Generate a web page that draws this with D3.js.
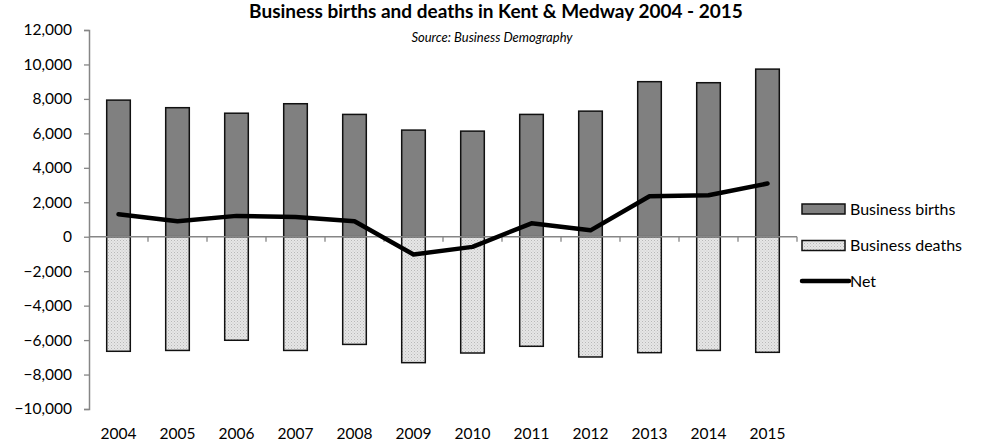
<!DOCTYPE html>
<html>
<head>
<meta charset="utf-8">
<script src="https://cdn.jsdelivr.net/npm/d3@7"></script>
<style>
  body { margin: 0; background: #fff; }
  text { font-family: Lato, "Open Sans", sans-serif; fill: #000; }
</style>
</head>
<body>
<div id="chart"></div>
<script>
// data
let YEARS = ["2004", "2005", "2006", "2007", "2008", "2009", "2010", "2011", "2012", "2013", "2014", "2015"]
let BIRTHS = [7930, 7490, 7170, 7720, 7100, 6190, 6130, 7100, 7290, 9000, 8940, 9730]
let DEATHS = [-6650, -6600, -6010, -6600, -6250, -7310, -6750, -6360, -6980, -6730, -6600, -6710]
let NET = [1310, 900, 1210, 1150, 900, -1030, -590, 780, 370, 2350, 2410, 3090]
let Y_TICKS = [12000, 10000, 8000, 6000, 4000, 2000, 0, -2000, -4000, -6000, -8000, -10000]

let width = 983, height = 446
let plotLeft = 89, plotRight = 797, plotTop = 30, plotBottom = 409
let axisGrey = "#868686"

let svg = d3.select("#chart")
    .append("svg")
    .attr("width", width)
    .attr("height", height)

// pattern for deaths bars
let defs = svg.append("defs")
let pat = defs.append("pattern")
    .attr("id", "dots")
    .attr("width", 3)
    .attr("height", 3)
    .attr("patternUnits", "userSpaceOnUse")
pat.append("rect").attr("width", 3).attr("height", 3).attr("fill", "#e6e6e6")
pat.append("rect").attr("width", 1).attr("height", 1).attr("fill", "#b8b8b8")
pat.append("rect").attr("x", 1.5).attr("y", 1.5).attr("width", 1).attr("height", 1).attr("fill", "#c8c8c8")

let x = d3.scaleBand()
    .domain(YEARS)
    .range([plotLeft, plotRight])
    .paddingInner(0.6)
    .paddingOuter(0.3)

let y = d3.scaleLinear()
    .domain([-10000, 12000])
    .range([plotBottom, plotTop])

// title
svg.append("text")
    .attr("x", 496)
    .attr("y", 18)
    .attr("text-anchor", "middle")
    .style("font-weight", "bold")
    .style("font-size", "19px")
    .text("Business births and deaths in Kent & Medway 2004 - 2015")

svg.append("text")
    .attr("x", 492)
    .attr("y", 42)
    .attr("text-anchor", "middle")
    .style("font-style", "italic")
    .style("font-size", "13px")
    .text("Source: Business Demography")

// y axis
let yAxis = svg.append("g")
    .attr("transform", "translate(" + plotLeft + ",0)")
    .call(d3.axisLeft(y)
        .tickValues(Y_TICKS)
        .tickSize(5)
        .tickPadding(12)
        .tickFormat(d3.format(",")))
yAxis.select(".domain").attr("stroke", axisGrey).attr("stroke-width", 1.5)
yAxis.selectAll(".tick line").attr("stroke", axisGrey).attr("stroke-width", 1.3)
yAxis.selectAll(".tick text")
    .style("font-family", "Lato, sans-serif")
    .style("font-size", "15.5px")
    .attr("fill", "#000")

// births bars
svg.selectAll(".birth")
    .data(BIRTHS)
    .enter()
    .append("rect")
    .attr("class", "birth")
    .attr("x", function (d, i) { return x(YEARS[i]) })
    .attr("y", function (d) { return y(d) })
    .attr("width", x.bandwidth())
    .attr("height", function (d) { return y(0) - y(d) })
    .attr("fill", "#808080")
    .attr("stroke", "#111")
    .attr("stroke-width", 1.5)

// deaths bars
svg.selectAll(".death")
    .data(DEATHS)
    .enter()
    .append("rect")
    .attr("class", "death")
    .attr("x", function (d, i) { return x(YEARS[i]) })
    .attr("y", y(0))
    .attr("width", x.bandwidth())
    .attr("height", function (d) { return y(d) - y(0) })
    .attr("fill", "url(#dots)")
    .attr("stroke", "#111")
    .attr("stroke-width", 1.5)

// zero axis with ticks between categories
let zeroG = svg.append("g")
zeroG.append("line")
    .attr("x1", plotLeft).attr("x2", plotRight)
    .attr("y1", y(0)).attr("y2", y(0))
    .attr("stroke", axisGrey)
    .attr("stroke-width", 1.5)
let step = x.step()
zeroG.selectAll("line.tk")
    .data(d3.range(1, YEARS.length + 1))
    .enter()
    .append("line")
    .attr("class", "tk")
    .attr("x1", function (i) { return plotLeft + i * step })
    .attr("x2", function (i) { return plotLeft + i * step })
    .attr("y1", y(0))
    .attr("y2", y(0) + 5)
    .attr("stroke", axisGrey)
    .attr("stroke-width", 1.3)

// net line
let line = d3.line()
    .x(function (d, i) { return x(YEARS[i]) + x.bandwidth() / 2 })
    .y(function (d) { return y(d) })
svg.append("path")
    .datum(NET)
    .attr("d", line)
    .attr("fill", "none")
    .attr("stroke", "#000")
    .attr("stroke-width", 4.5)
    .attr("stroke-linejoin", "round")
    .attr("stroke-linecap", "round")

// category labels
svg.selectAll(".yr")
    .data(YEARS)
    .enter()
    .append("text")
    .attr("class", "yr")
    .attr("x", function (d) { return x(d) + x.bandwidth() / 2 })
    .attr("y", 439)
    .attr("text-anchor", "middle")
    .style("font-size", "15.5px")
    .text(function (d) { return d })

// legend
let legend = svg.append("g")
let lx = 802
legend.append("rect")
    .attr("x", lx).attr("y", 204).attr("width", 43).attr("height", 10)
    .attr("fill", "#808080").attr("stroke", "#111").attr("stroke-width", 1.5)
legend.append("text")
    .attr("x", 850).attr("y", 214.5)
    .style("font-size", "16px")
    .text("Business births")
legend.append("rect")
    .attr("x", lx).attr("y", 240.5).attr("width", 43).attr("height", 10)
    .attr("fill", "url(#dots)").attr("stroke", "#111").attr("stroke-width", 1.5)
legend.append("text")
    .attr("x", 850).attr("y", 251)
    .style("font-size", "16px")
    .text("Business deaths")
legend.append("line")
    .attr("x1", lx).attr("x2", 849).attr("y1", 281).attr("y2", 281)
    .attr("stroke", "#000").attr("stroke-width", 4.5)
    .attr("stroke-linecap", "round")
legend.append("text")
    .attr("x", 850).attr("y", 286.5)
    .style("font-size", "16px")
    .text("Net")
</script>
</body>
</html>
